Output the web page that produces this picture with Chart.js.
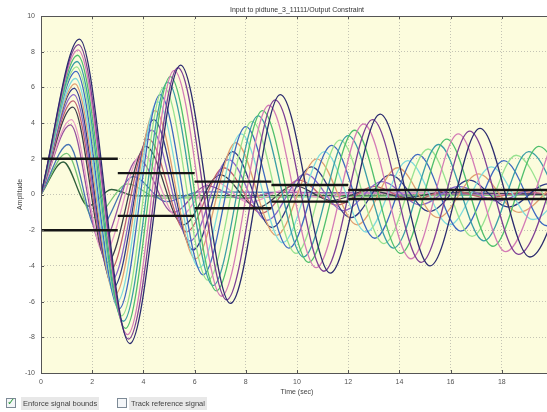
<!DOCTYPE html>
<html>
<head>
<meta charset="utf-8">
<script src="https://cdn.jsdelivr.net/npm/chart.js@4/dist/chart.umd.min.js"></script>
<style>
  html, body { margin: 0; padding: 0; background: #ffffff; overflow: hidden; width: 547px; height: 412px; }
  #wrap { position: relative; width: 600px; height: 412px; }
  canvas { position: absolute; left: 0; top: 0; }
  .opt { position: absolute; top: 397px; height: 13px; font: 7.5px "Liberation Sans", Arial, sans-serif; color: #444; line-height: 13px; }
  .box { position: absolute; top: 398px; width: 10px; height: 10px; border: 1px solid #7d8a96; background: #f4f6f8; box-sizing: border-box; }
  .box span { position: absolute; left: 0px; top: -3px; font: bold 10px "DejaVu Sans", sans-serif; color: #2c9a3c; }
  .lbl { background: #e8e8e8; padding: 0 2px; }
</style>
</head>
<body>
<div id="wrap">
  <canvas id="c" width="600" height="412"></canvas>
  <div class="box" style="left:6px"><span>✓</span></div>
  <div class="opt lbl" style="left:21px">Enforce signal bounds</div>
  <div class="box" style="left:117px"></div>
  <div class="opt lbl" style="left:129px">Track reference signal</div>
</div>
<script>
// Simulated responses of the tuned loop: [time (s), amplitude] at each turning point.
const response01 = [[0,0],[1.5,8.7],[3.47,-8.35],[5.45,7.25],[7.4,-6.1],[9.35,5.6],[11.3,-4.4],[13.25,4.5],[15.2,-4.0],[17.15,3.7],[19.1,-3.5],[21.05,3.3]];
const response02 = [[0,0],[1.47,8.4],[3.42,-8.1],[5.35,7.1],[7.25,-5.9],[9.15,5.3],[11.05,-4.3],[12.95,4.2],[14.85,-3.8],[16.75,3.55],[18.65,-3.35],[20.55,3.2]];
const response03 = [[0,0],[1.45,8.1],[3.38,-7.85],[5.2,6.95],[7.05,-5.7],[8.9,5.0],[10.75,-4.1],[12.6,3.95],[14.45,-3.6],[16.3,3.4],[18.15,-3.2],[20.0,3.0]];
const response04 = [[0,0],[1.43,7.8],[3.3,-7.5],[5.05,6.6],[6.85,-5.4],[8.65,4.7],[10.45,-3.8],[12.25,3.6],[14.05,-3.3],[15.85,3.1],[17.65,-2.9],[19.45,2.7],[21.25,-2.6]];
const response05 = [[0,0],[1.41,7.45],[3.22,-7.1],[4.95,6.3],[6.72,-5.1],[8.48,4.4],[10.25,-3.5],[12.0,3.3],[13.77,-3.0],[15.53,2.8],[17.3,-2.6],[19.05,2.4],[20.8,-2.3]];
const response06 = [[0,0],[1.39,7.15],[3.15,-6.8],[4.8,6.0],[6.52,-4.8],[8.24,4.1],[9.96,-3.3],[11.68,3.05],[13.4,-2.75],[15.12,2.55],[16.84,-2.35],[18.56,2.2],[20.28,-2.05]];
const response07 = [[0,0],[1.37,6.9],[3.05,-6.4],[4.65,5.6],[6.33,-4.5],[8.0,3.8],[9.68,-3.0],[11.36,2.75],[13.04,-2.45],[14.72,2.25],[16.4,-2.05],[18.08,1.9],[19.76,-1.75],[21.44,1.6]];
const response08 = [[0,0],[1.35,6.5],[2.98,-6.0],[4.55,5.2],[6.18,-4.1],[7.81,3.4],[9.44,-2.7],[11.07,2.4],[12.7,-2.1],[14.33,1.9],[15.96,-1.7],[17.59,1.55],[19.22,-1.4],[20.85,1.3]];
const response09 = [[0,0],[1.33,6.2],[2.9,-5.6],[4.45,4.7],[6.03,-3.6],[7.61,2.9],[9.19,-2.3],[10.77,2.0],[12.35,-1.7],[13.93,1.5],[15.51,-1.3],[17.09,1.15],[18.67,-1.0],[20.25,0.9]];
const response10 = [[0,0],[1.3,5.95],[2.83,-5.2],[4.4,4.2],[5.94,-3.1],[7.48,2.4],[9.02,-1.85],[10.56,1.55],[12.1,-1.3],[13.64,1.1],[15.18,-0.95],[16.72,0.8],[18.26,-0.7],[19.8,0.6],[21.34,-0.5]];
const response11 = [[0,0],[1.28,5.6],[2.76,-4.8],[4.32,3.6],[5.82,-2.6],[7.32,1.95],[8.82,-1.45],[10.32,1.15],[11.82,-0.9],[13.32,0.72],[14.82,-0.58],[16.32,0.46],[17.82,-0.37],[19.32,0.3],[20.82,-0.25]];
const response12 = [[0,0],[1.26,5.25],[2.68,-4.3],[4.2,3.1],[5.67,-2.1],[7.14,1.5],[8.61,-1.05],[10.08,0.8],[11.55,-0.6],[13.02,0.45],[14.49,-0.34],[15.96,0.26],[17.43,-0.2],[18.9,0.15],[20.37,-0.12]];
const response13 = [[0,0],[1.24,4.9],[2.58,-3.8],[4.1,2.7],[5.55,-1.7],[7.0,1.1],[8.45,-0.72],[9.9,0.5],[11.35,-0.34],[12.8,0.23],[14.25,-0.16],[15.7,0.1],[20,0]];
const response14 = [[0,0],[1.18,4.2],[2.45,-3.3],[3.95,2.3],[5.35,-1.3],[6.75,0.75],[8.15,-0.45],[9.55,0.27],[10.95,-0.16],[12.35,0.09],[20,0]];
const response15 = [[0,0],[1.15,3.9],[2.35,-2.8],[3.8,2.0],[5.15,-1.0],[6.5,0.5],[7.85,-0.25],[9.2,0.12],[20,0]];
const response16 = [[0,0],[1.07,2.8],[2.2,-2.0],[3.6,1.0],[4.9,-0.4],[6.2,0.15],[20,0]];
const response17 = [[0,0],[1.0,2.3],[2.05,-1.3],[3.4,0.6],[4.6,-0.2],[20,0]];
const response18 = [[0,0],[0.87,1.82],[1.85,-0.65],[2.75,0.28],[3.7,-0.08],[20,0]];

// Signal bounds as [start time, end time, level] segments.
const upperBound = [[0,3,2],[3,6,1.2],[6,9,0.72],[9,12,0.53],[12,20,0.25]];
const lowerBound = [[0,3,-2],[3,6,-1.2],[6,9,-0.77],[9,12,-0.4],[12,20,-0.25]];

// Axis ticks
const timeTicks = [0,2,4,6,8,10,12,14,16,18,20];
const amplitudeTicks = [-10,-8,-6,-4,-2,0,2,4,6,8,10];

const responses = [response01,response02,response03,response04,response05,response06,
  response07,response08,response09,response10,response11,response12,response13,
  response14,response15,response16,response17,response18];

const lineColors = ['#2b2b6e','#7d3f95','#d47cb6','#4fbf6c','#3a9ea6','#97e28f',
  '#3d68c0','#7fdcdc','#e0a070','#303a86','#8a66c8','#c06070','#3b3b4b',
  '#e89ac8','#94509e','#4774b4','#76c476','#2e5e3c'];

const FONT = '"Liberation Sans", Arial, sans-serif';

function segmentsToPoints(segs) {
  const pts = [];
  segs.forEach(([t0, t1, v], i) => {
    if (i > 0) pts.push({ x: t0, y: null });
    pts.push({ x: t0, y: v }, { x: t1, y: v });
  });
  return pts;
}

const datasets = [];
[upperBound, lowerBound].forEach((b) => {
  datasets.push({
    data: segmentsToPoints(b), borderColor: '#151515', borderWidth: 2.4,
    pointRadius: 0, spanGaps: false, tension: 0, order: 0, clip: 0
  });
});
responses.forEach((r, i) => {
  datasets.push({
    data: r.map(([t, v]) => ({ x: t, y: v })),
    borderColor: lineColors[i], borderWidth: 1.3, pointRadius: 0,
    cubicInterpolationMode: 'monotone', order: 1, clip: 0
  });
});

const axesBox = {
  id: 'axesBox',
  beforeDraw(chart) {
    const { ctx, chartArea: a } = chart;
    ctx.save();
    ctx.fillStyle = '#fcfcdd';
    ctx.fillRect(a.left, a.top, a.right - a.left, a.bottom - a.top);
    ctx.restore();
  },
  afterDraw(chart) {
    const { ctx, chartArea: a, scales } = chart;
    ctx.save();
    ctx.strokeStyle = '#555555';
    ctx.lineWidth = 1;
    ctx.strokeRect(Math.round(a.left) + 0.5, Math.round(a.top) + 0.5,
      Math.round(a.right - a.left), Math.round(a.bottom - a.top));
    ctx.beginPath();
    timeTicks.forEach((t) => {
      const px = Math.round(scales.x.getPixelForValue(t)) + 0.5;
      ctx.moveTo(px, a.bottom); ctx.lineTo(px, a.bottom - 3);
      ctx.moveTo(px, a.top); ctx.lineTo(px, a.top + 3);
    });
    amplitudeTicks.forEach((v) => {
      const py = Math.round(scales.y.getPixelForValue(v)) + 0.5;
      ctx.moveTo(a.left, py); ctx.lineTo(a.left + 3, py);
    });
    ctx.stroke();
    ctx.restore();
  }
};

new Chart(document.getElementById('c'), {
  type: 'line',
  data: { datasets },
  options: {
    responsive: false,
    animation: false,
    devicePixelRatio: 1,
    layout: { padding: { left: 0, right: 47, top: 0, bottom: 0 } },
    plugins: {
      legend: { display: false },
      tooltip: { enabled: false },
      title: {
        display: true, fullSize: false,
        text: 'Input to pidtune_3_11111/Output Constraint',
        color: '#333333', font: { family: FONT, size: 7, weight: 'normal' },
        padding: { top: 5.4, bottom: 2.2 }
      }
    },
    scales: {
      x: {
        type: 'linear', min: 0, max: 20,
        afterBuildTicks(s) { s.ticks = timeTicks.map((v) => ({ value: v })); },
        afterFit(s) { s.height = 39; },
        ticks: { color: '#555555', font: { family: FONT, size: 7 }, padding: 5, maxRotation: 0 },
        grid: { color: '#c4c4b4', lineWidth: 1, drawTicks: false },
        border: { display: false, dash: [1, 2] },
        title: { display: true, text: 'Time (sec)', color: '#444444', font: { family: FONT, size: 7 }, padding: { top: 0, bottom: 15.8 } }
      },
      y: {
        type: 'linear', min: -10, max: 10,
        afterBuildTicks(s) { s.ticks = amplitudeTicks.map((v) => ({ value: v })); },
        afterFit(s) { s.width = 41; },
        ticks: { color: '#555555', font: { family: FONT, size: 7 }, padding: 6 },
        grid: { color: '#c4c4b4', lineWidth: 1, drawTicks: false },
        border: { display: false, dash: [1, 2] },
        title: { display: true, text: 'Amplitude', color: '#444444', font: { family: FONT, size: 7 }, padding: { top: 15.8, bottom: 0 } }
      }
    }
  },
  plugins: [axesBox]
});
</script>
</body>
</html>
